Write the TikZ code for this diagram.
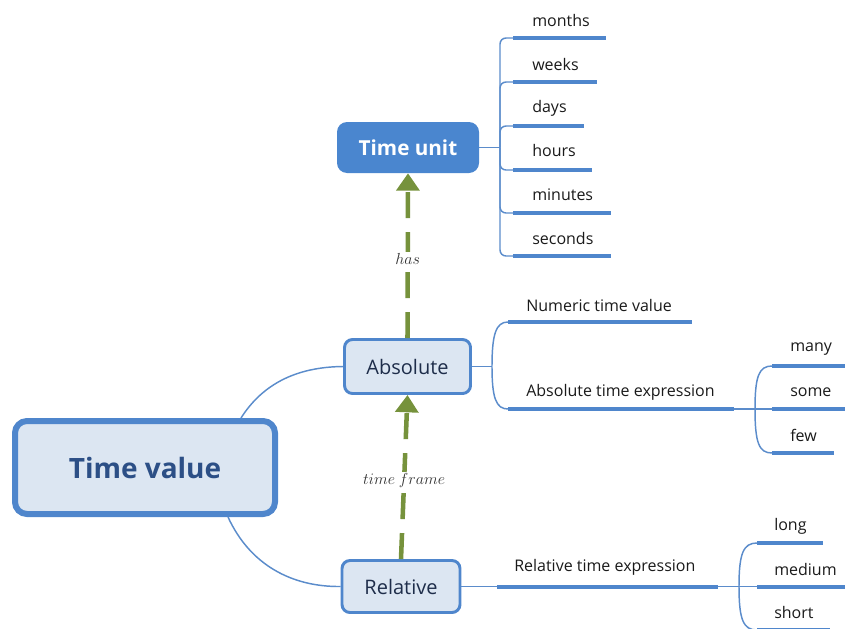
\documentclass[tikz,border=0pt]{standalone}
\usepackage{fontspec}
\setmainfont{Open Sans}
\usetikzlibrary{arrows.meta}
\definecolor{boxfill}{HTML}{DCE6F2}
\definecolor{boxline}{HTML}{4F86CC}
\definecolor{unitfill}{HTML}{4A86CF}
\definecolor{twigblue}{HTML}{5B8CCB}
\definecolor{barblue}{HTML}{4F86CC}
\definecolor{rootink}{HTML}{2C4F86}
\definecolor{topicink}{HTML}{1E2D4A}
\definecolor{leafink}{HTML}{1A1A1A}
\definecolor{linkgreen}{HTML}{76923C}
\begin{document}
\begin{tikzpicture}[x=0.75pt,y=-0.75pt,
  rootbox/.style={draw=boxline, fill=boxfill, line width=4.5pt, rounded corners=9pt,
    minimum width=195pt, minimum height=69.75pt, inner sep=0pt,
    font=\fontsize{21}{25}\selectfont\bfseries, text=rootink},
  topicbox/.style={draw=boxline, fill=boxfill, line width=2.2pt, rounded corners=6pt,
    inner sep=0pt, font=\fontsize{15}{18}\selectfont, text=topicink},
  unitbox/.style={fill=unitfill, rounded corners=7.5pt, inner sep=0pt,
    minimum width=106.5pt, minimum height=38.25pt,
    font=\fontsize{15.5}{18}\selectfont\bfseries, text=white},
  leaf/.style={anchor=base west, inner sep=0pt, font=\fontsize{12}{14}\selectfont, text=leafink},
  twig/.style={draw=twigblue, line width=1.1pt},
  bar/.style={draw=barblue, line width=3pt},
  link/.style={draw=linkgreen, line width=3.4pt, dash pattern=on 19.5pt off 10.5pt,
    -{Triangle[width=17pt,length=13pt]}},
  linklabel/.style={fill=white, inner sep=1pt, text=black!80,
    font=\fontsize{11.5}{13}\selectfont}]
\useasboundingbox (0,0) rectangle (845,628);

% central topic and main branches
\node[rootbox] (tv) at (145,467.5) {Time value};
\node[topicbox, minimum width=94.5pt, minimum height=40.5pt] (abs) at (407.5,366.5) {Absolute};
\node[topicbox, minimum width=88.5pt, minimum height=39pt] (rel) at (401,586.5) {Relative};
\node[unitbox] (tu) at (408,147.5) {Time unit};

\draw[twig] ([xshift=-27.75pt]tv.north east) .. controls (262,385) and (295,367) .. (abs.west);
\draw[twig] ([xshift=-37.5pt]tv.south east) .. controls (250,565) and (292,587) .. (rel.west);

% relations between topics
\draw[link] (rel.north) -- node[linklabel, pos=0.48] {$time\ frame$} (abs.south);
\draw[link] (abs.north) -- node[linklabel, pos=0.48] {$has$} (tu.south);

% time units
\coordinate (tuJ) at (500,147.5);
\coordinate (monthsA) at (513,38);   \coordinate (monthsB) at (606,38);
\coordinate (weeksA) at (513,82);    \coordinate (weeksB) at (597,82);
\coordinate (daysA) at (513,126);    \coordinate (daysB) at (584,126);
\coordinate (hoursA) at (513,170);   \coordinate (hoursB) at (592,170);
\coordinate (minutesA) at (513,213); \coordinate (minutesB) at (611,213);
\coordinate (secondsA) at (513,256); \coordinate (secondsB) at (611,256);
\draw[twig] (tu.east) -- (tuJ);
\foreach \u in {months,weeks,days,hours,minutes,seconds}{
  \draw[twig, rounded corners=4.5pt] (tuJ) |- (\u A);
  \draw[bar] (\u A) -- (\u B);
}
\node[leaf] (months) at (532,26.5) {months};
\node[leaf] (weeks) at (532,70) {weeks};
\node[leaf] (days) at (532,112) {days};
\node[leaf] (hours) at (532,156.5) {hours};
\node[leaf] (minutes) at (532,200) {minutes};
\node[leaf] (seconds) at (532,244) {seconds};

% absolute branch
\coordinate (absJ) at (492,366.5);
\coordinate (numA) at (508,322);  \coordinate (numB) at (692,322);
\coordinate (axA) at (508,409);   \coordinate (axB) at (734,409);
\draw[twig] (abs.east) -- (absJ);
\draw[twig] (absJ) .. controls (492,334) and (496,322) .. (numA);
\draw[twig] (absJ) .. controls (492,398) and (496,409) .. (axA);
\draw[bar] (numA) -- (numB);
\draw[bar] (axA) -- (axB);
\node[leaf] (num) at (526,311.5) {Numeric time value};
\node[leaf] (ax) at (526,396.5) {Absolute time expression};

\coordinate (axJ) at (755,409);
\coordinate (manyA) at (772,366); \coordinate (manyB) at (845,366);
\coordinate (someA) at (772,409); \coordinate (someB) at (845,409);
\coordinate (fewA) at (772,453);  \coordinate (fewB) at (834,453);
\draw[twig] (axB) -- (axJ);
\draw[twig] (axJ) .. controls (755,376) and (759,366) .. (manyA);
\draw[twig] (axJ) -- (someA);
\draw[twig] (axJ) .. controls (755,443) and (759,453) .. (fewA);
\draw[bar] (manyA) -- (manyB);
\draw[bar] (someA) -- (someB);
\draw[bar] (fewA) -- (fewB);
\node[leaf] (many) at (790,351.5) {many};
\node[leaf] (some) at (790,396.5) {some};
\node[leaf] (few) at (790,441.5) {few};

% relative branch
\coordinate (rxA) at (497,586.5); \coordinate (rxB) at (718,586.5);
\draw[twig] (rel.east) -- (rxA);
\draw[bar] (rxA) -- (rxB);
\node[leaf] (rx) at (514,571.5) {Relative time expression};

\coordinate (rxJ) at (739,586.5);
\coordinate (longA) at (757,543);    \coordinate (longB) at (823,543);
\coordinate (mediumA) at (757,586.5); \coordinate (mediumB) at (845,586.5);
\coordinate (shortA) at (757,630);   \coordinate (shortB) at (830,630);
\draw[twig] (rxB) -- (rxJ);
\draw[twig] (rxJ) .. controls (739,554) and (743,543) .. (longA);
\draw[twig] (rxJ) -- (mediumA);
\draw[twig] (rxJ) .. controls (739,619) and (743,630) .. (shortA);
\draw[bar] (longA) -- (longB);
\draw[bar] (mediumA) -- (mediumB);
\draw[bar] (shortA) -- (shortB);
\node[leaf] (long) at (774,530) {long};
\node[leaf] (medium) at (774,575) {medium};
\node[leaf] (short) at (774,618) {short};
\end{tikzpicture}
\end{document}
